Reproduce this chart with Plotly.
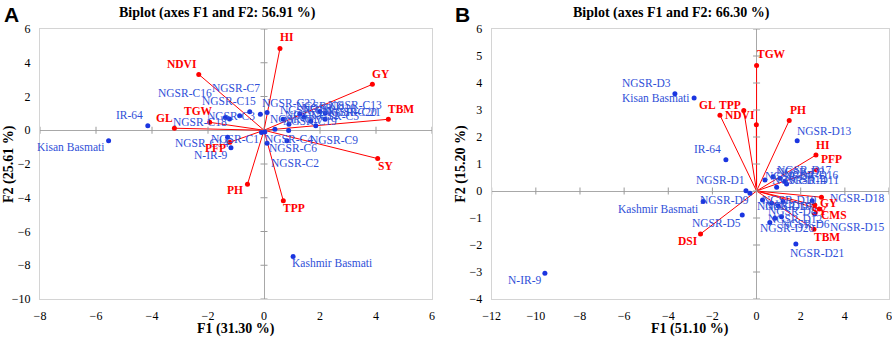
import plotly.graph_objects as go

# ---------------- Panel A data ----------------
a_obs_names = ["IR-64", "Kisan Basmati", "Kashmir Basmati", "N-IR-9",
               "NGSR-C1", "NGSR-C2", "NGSR-C3", "NGSR-C4", "NGSR-C5", "NGSR-C6",
               "NGSR-C7", "NGSR-C8", "NGSR-C9", "NGSR-C10", "NGSR-C11", "NGSR-C12",
               "NGSR-C13", "NGSR-C14", "NGSR-C15", "NGSR-C16", "NGSR-C17", "NGSR-C18",
               "NGSR-C19", "NGSR-C20", "NGSR-C21", "NGSR-C22"]
a_obs_f1 = [-4.15, -5.55, 1.04, -1.18,
            -0.09, 0.82, -0.87, 0.03, 1.67, 0.11,
            -0.51, 1.28, 1.85, 1.42, 0.68, 0.89,
            1.99, -1.30, -0.13, -1.38, 0.39, -1.23,
            0.88, 2.18, 2.19, 0.11]
a_obs_f2 = [0.27, -0.62, -7.48, -1.03,
            -0.14, -0.62, 0.86, -0.10, 0.53, -0.77,
            1.10, 0.96, 0.27, 0.77, 0.65, 0.36,
            1.11, -0.41, 0.95, 0.75, 0.06, 0.67,
            -0.01, 0.65, 1.01, 1.05]
a_var_names = ["HI", "NDVI", "GY", "TBM", "SY", "GL", "TGW", "PFP", "PH", "TPP"]
a_var_f1 = [0.57, -2.33, 3.87, 4.44, 4.06, -3.20, -1.94, -1.22, -0.59, 0.69]
a_var_f2 = [4.85, 3.31, 2.72, 0.65, -1.68, 0.12, 0.47, -0.71, -3.20, -4.18]

# ---------------- Panel B data ----------------
b_obs_names = ["NGSR-D3", "Kisan Basmati", "IR-64", "NGSR-D1", "NGSR-D9",
               "Kashmir Basmati", "NGSR-D5", "N-IR-9", "NGSR-D13", "NGSR-D18",
               "NGSR-D15", "NGSR-D21", "NGSR-D17", "NGSR-D16", "NGSR-D11",
               "NGSR-D2", "NGSR-D4", "NGSR-D14", "NGSR-D10", "NGSR-D8",
               "NGSR-D7", "NGSR-D12", "NGSR-D6", "NGSR-D20", "NGSR-D19"]
b_obs_f1 = [-3.70, -2.83, -1.39, -0.48, -0.30,
            -2.42, -0.65, -9.59, 1.84, 2.52,
            2.64, 1.78, 1.06, 1.28, 1.36,
            0.75, 0.38, 0.91, 1.20, 0.98,
            0.68, 1.13, 0.83, 0.60, 0.27]
b_obs_f2 = [3.60, 3.44, 1.16, 0.01, -0.08,
            -0.39, -0.89, -3.05, 1.86, -0.36,
            -0.85, -1.96, 0.47, 0.35, 0.26,
            0.53, 0.41, 0.14, -0.39, -0.55,
            -0.45, -0.95, -1.01, -1.17, -0.33]
b_var_names = ["TGW", "PH", "GL", "TPP", "NDVI", "HI", "PFP", "GY", "SY", "CMS", "TBM", "DSI"]
b_var_f1 = [0.00, 1.48, -1.66, -0.58, -0.01, 2.69, 2.72, 2.94, 2.64, 2.84, 2.60, -2.54]
b_var_f2 = [4.65, 2.61, 2.81, 2.98, 2.45, 1.33, 0.78, -0.23, -0.52, -0.67, -1.42, -1.59]

# tick values
a_xticks = [-8, -6, -4, -2, 0, 2, 4, 6]
a_yticks = [-10, -8, -6, -4, -2, 0, 2, 4, 6]
b_xticks = [-12, -10, -8, -6, -4, -2, 0, 2, 4, 6]
b_yticks = [-4, -3, -2, -1, 0, 1, 2, 3, 4, 5, 6]

titles = ["Biplot (axes F1 and F2: 56.91 %)", "Biplot (axes F1 and F2: 66.30 %)"]
xtitles = ["F1 (31.30 %)", "F1 (51.10 %)"]
ytitles = ["F2 (25.61 %)", "F2 (15.20 %)"]
panel_letters = ["A", "B"]

# ---------------- label offsets (pixels: dx right, dy down) ----------------
a_obs_off = [(-18, -11), (-38, 6), (39, 7), (-20, 7),
             (-26, 6), (8, 22), (-9, 0), (24, 7), (24, -5), (26, 5),
             (-14, -24), (20, -8), (18, 14), (25, -9), (23, -9), (23, -9),
             (35, -7), (-26, 6), (-31, -13), (-40, -25), (22, -10), (-30, 3),
             (21, -9), (25, -7), (29, -1), (22, -10)]
a_var_off = [(7, -11), (-17, -10), (9, -10), (13, -10), (8, 7),
             (-10, -10), (-11, -11), (-14, 6), (-12, 6), (11, 7)]
b_obs_off = [(-28, -11), (-39, 0), (-18, -11), (-25, -11), (-25, 7),
             (-45, 7), (-26, 8), (-20, 7), (27, -10), (45, -3),
             (43, 13), (22, 9), (25, -8), (27, -7), (25, -4),
             (27, -5), (25, -4), (23, -7), (6, -2), (14, 5),
             (18, 3), (14, 2), (31, 6), (18, 5), (22, 6)]
b_var_off = [(15, -11), (9, -11), (-12, -10), (-14, -6), (-16, -10), (7, -10),
             (15, -11), (8, 6), (5, 6), (15, 6), (13, 8), (-13, 7)]

W, H = 892, 339
BLUE_PT = "#1a35e0"
BLUE_TX = "#2f4fd8"
RED = "#ff0000"
SERIF = "Liberation Serif"


def px(xw):
    return xw / W


def py(yw):
    return 1 - yw / H


# plot-area boxes in pixels
boxes = [(40, 432), (491.7, 889)]
ytop, ybot = 29, 299

fig = go.Figure()
annotations = []

panels = [
    (a_obs_names, a_obs_f1, a_obs_f2, a_var_names, a_var_f1, a_var_f2, a_obs_off, a_var_off,
     a_xticks, a_yticks, "x", "y"),
    (b_obs_names, b_obs_f1, b_obs_f2, b_var_names, b_var_f1, b_var_f2, b_obs_off, b_var_off,
     b_xticks, b_yticks, "x2", "y2"),
]

for i, (on, ox, oy, vn, vx, vy, ooff, voff, xt, yt, xa, ya) in enumerate(panels):
    # vector lines from origin
    lx, ly = [], []
    for x, y in zip(vx, vy):
        lx += [0, x, None]
        ly += [0, y, None]
    fig.add_trace(go.Scatter(x=lx, y=ly, mode="lines", line=dict(color=RED, width=1),
                             xaxis=xa, yaxis=ya, hoverinfo="skip", showlegend=False))
    # tick marks on zero lines
    fig.add_trace(go.Scatter(x=xt, y=[0] * len(xt), mode="markers",
                             marker=dict(symbol="line-ns", size=5, line=dict(color="#9a9a9a", width=1)),
                             xaxis=xa, yaxis=ya, hoverinfo="skip", showlegend=False, cliponaxis=False))
    fig.add_trace(go.Scatter(x=[0] * len(yt), y=yt, mode="markers",
                             marker=dict(symbol="line-ew", size=5, line=dict(color="#9a9a9a", width=1)),
                             xaxis=xa, yaxis=ya, hoverinfo="skip", showlegend=False, cliponaxis=False))
    # observations
    fig.add_trace(go.Scatter(x=ox, y=oy, mode="markers", marker=dict(color=BLUE_PT, size=5),
                             xaxis=xa, yaxis=ya, text=on, showlegend=False))
    # variables
    fig.add_trace(go.Scatter(x=vx, y=vy, mode="markers", marker=dict(color=RED, size=5),
                             xaxis=xa, yaxis=ya, text=vn, showlegend=False))
    for name, x, y, (dx, dy) in zip(on, ox, oy, ooff):
        annotations.append(dict(x=x, y=y, xref=xa, yref=ya, text=name, showarrow=False,
                                xshift=dx, yshift=-dy, xanchor="center", yanchor="middle",
                                font=dict(family=SERIF, size=11.5, color=BLUE_TX)))
    for name, x, y, (dx, dy) in zip(vn, vx, vy, voff):
        annotations.append(dict(x=x, y=y, xref=xa, yref=ya, text="<b>%s</b>" % name, showarrow=False,
                                xshift=dx, yshift=-dy, xanchor="center", yanchor="middle",
                                font=dict(family=SERIF, size=11.5, color=RED)))

    x0, x1 = boxes[i]
    cx = (x0 + x1) / 2
    # title
    annotations.append(dict(x=px(cx - 19), y=py(13), xref="paper", yref="paper",
                            text="<b>%s</b>" % titles[i], showarrow=False, xanchor="center",
                            yanchor="middle", font=dict(family=SERIF, size=14, color="black")))
    # axis titles
    annotations.append(dict(x=px(cx), y=py(329), xref="paper", yref="paper",
                            text="<b>%s</b>" % xtitles[i], showarrow=False, xanchor="center",
                            yanchor="middle", font=dict(family=SERIF, size=14, color="black")))
    annotations.append(dict(x=px(x0 - 31), y=py((ytop + ybot) / 2), xref="paper", yref="paper",
                            text="<b>%s</b>" % ytitles[i], showarrow=False, textangle=-90,
                            xanchor="center", yanchor="middle",
                            font=dict(family=SERIF, size=14, color="black")))
    # panel letter
    annotations.append(dict(x=px(x0 - 29), y=py(15), xref="paper", yref="paper",
                            text="<b>%s</b>" % panel_letters[i], showarrow=False, xanchor="center",
                            yanchor="middle",
                            font=dict(family="Liberation Sans", size=21, color="black")))

common_axis = dict(showgrid=False, zeroline=True, zerolinecolor="#a8a8a8", zerolinewidth=1,
                   showline=True, linecolor="#d4d4d4", linewidth=1, mirror=True, ticks="",
                   automargin=False,
                   tickfont=dict(family=SERIF, size=12, color="black"), fixedrange=True)

ydom = [py(ybot), py(ytop)]
fig.update_layout(
    template="none",
    width=W, height=H, margin=dict(l=0, r=0, t=0, b=0, pad=0, autoexpand=False),
    paper_bgcolor="white", plot_bgcolor="white", showlegend=False,
    font=dict(family=SERIF),
    xaxis=dict(domain=[px(boxes[0][0]), px(boxes[0][1])], range=[-8, 6], tickvals=a_xticks,
               anchor="y", ticklabelstandoff=6, **common_axis),
    yaxis=dict(domain=ydom, range=[-10, 6], tickvals=a_yticks, anchor="x",
               ticklabelstandoff=6, **common_axis),
    xaxis2=dict(domain=[px(boxes[1][0]), px(boxes[1][1])], range=[-12, 6], tickvals=b_xticks,
                anchor="y2", ticklabelstandoff=6, **common_axis),
    yaxis2=dict(domain=ydom, range=[-4, 6], tickvals=b_yticks, anchor="x2",
                ticklabelstandoff=6, **common_axis),
    annotations=annotations,
)

# remove the default page margin so the figure sits at the window's top-left corner
fig.write_html("out.html",
               config={"displayModeBar": False},
               post_script="document.body.style.margin='0';document.body.style.overflow='hidden';")
